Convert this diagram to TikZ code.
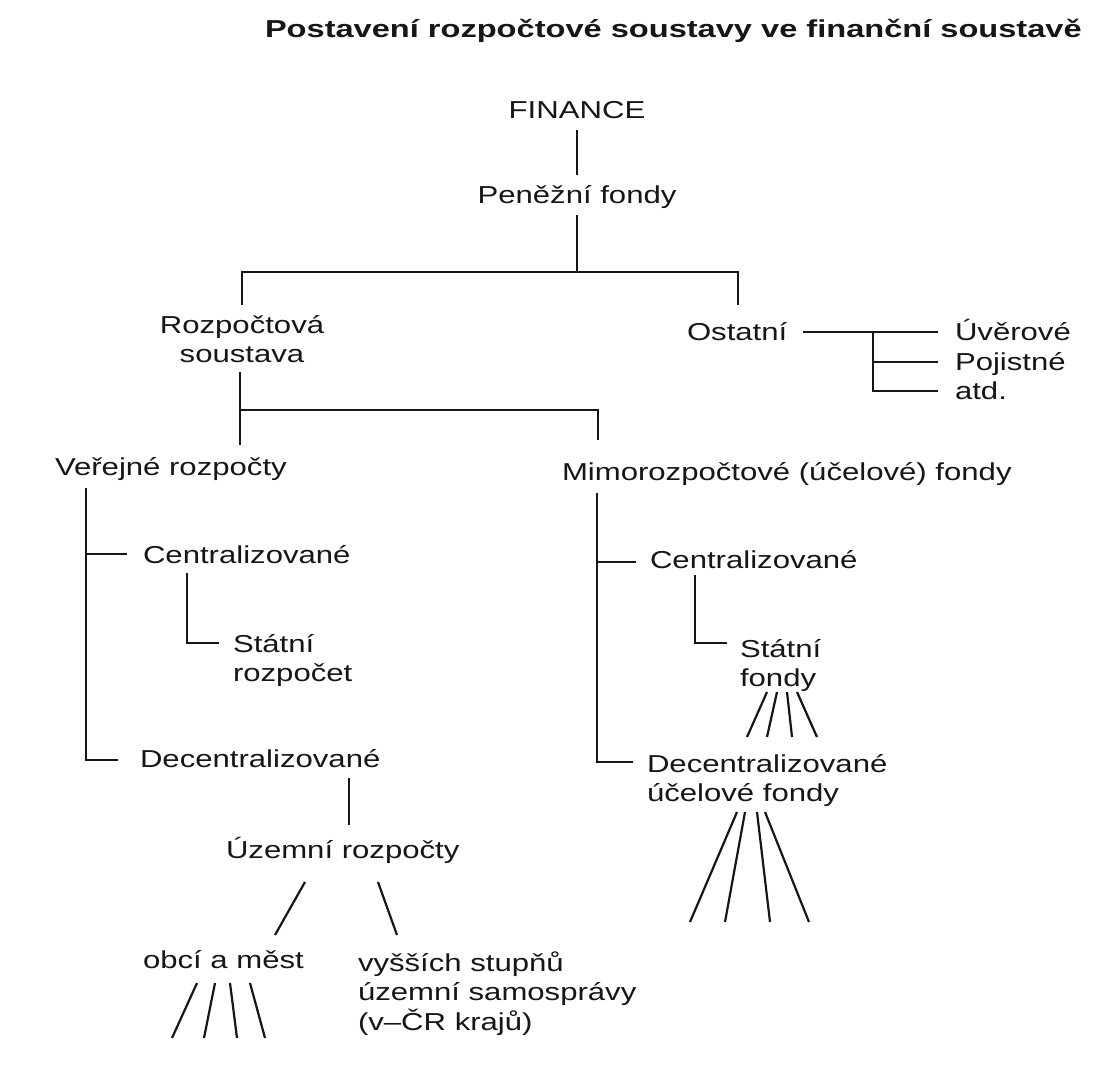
\documentclass[tikz,border=0pt]{standalone}
\usepackage{fontspec}
\setmainfont{Liberation Sans}[FakeStretch=1.27]
\newfontfamily\titlefont{Liberation Sans}[FakeStretch=1.33]
\usetikzlibrary{calc}
\definecolor{ink}{HTML}{161616}
\newcommand{\twol}[2]{\begin{tabular}[t]{@{}l@{}}#1\\#2\end{tabular}}
\newcommand{\twoc}[2]{\begin{tabular}[t]{@{}c@{}}#1\\#2\end{tabular}}
\begin{document}
\begin{tikzpicture}[x=1pt,y=-1pt,
  lbl/.style={inner sep=0pt, outer sep=0pt, text=ink, font=\fontsize{24.5}{29}\selectfont},
  conn/.style={draw=ink, line width=2.2pt}]
\fill[white] (0,0) rectangle (1102,1074);
\useasboundingbox (0,0) rectangle (1102,1074);

% nodes
\node[lbl, anchor=base west] (title) at (265,37) {\titlefont\bfseries Postavení rozpočtové soustavy ve finanční soustavě};
\node[lbl, anchor=base] (fin) at (577,118) {FINANCE};
\node[lbl, anchor=base] (pen) at (577,203) {Peněžní fondy};
\node[lbl, anchor=base] (roz) at (242,333) {\twoc{Rozpočtová}{soustava}};
\node[lbl, anchor=base west] (ost) at (687,340) {Ostatní};
\node[lbl, anchor=base west] (uv) at (955,340) {Úvěrové};
\node[lbl, anchor=base west] (poj) at (955,370) {Pojistné};
\node[lbl, anchor=base west] (atd) at (955,399) {atd.};
\node[lbl, anchor=base west] (ver) at (55,475) {Veřejné rozpočty};
\node[lbl, anchor=base west] (mim) at (562,480) {Mimorozpočtové (účelové) fondy};
\node[lbl, anchor=base west] (cenL) at (143,563) {Centralizované};
\node[lbl, anchor=base west] (stL) at (233,652) {\twol{Státní}{rozpočet}};
\node[lbl, anchor=base west] (decL) at (140,767) {Decentralizované};
\node[lbl, anchor=base west] (uzem) at (226,858) {Územní rozpočty};
\node[lbl, anchor=base west] (obci) at (143,968) {obcí a měst};
\node[lbl, anchor=base west] (vys) at (358,971) {\begin{tabular}[t]{@{}l@{}}vyšších stupňů\\územní samosprávy\\(v–ČR krajů)\end{tabular}};
\node[lbl, anchor=base west] (cenR) at (650,568) {Centralizované};
\node[lbl, anchor=base west] (stR) at (740,657) {\twol{Státní}{fondy}};
\node[lbl, anchor=base west] (decR) at (647,772) {\twol{Decentralizované}{účelové fondy}};

% free ends of fans
\coordinate (ob1) at (172,1038);
\coordinate (ob2) at (204,1038);
\coordinate (ob3) at (237,1038);
\coordinate (ob4) at (265,1038);
\coordinate (sf1) at (747,737);
\coordinate (sf2) at (767,737);
\coordinate (sf3) at (792,737);
\coordinate (sf4) at (817,737);
\coordinate (df1) at (690,922);
\coordinate (df2) at (725,922);
\coordinate (df3) at (770,922);
\coordinate (df4) at (809,922);

% connectors
\draw[conn] ($(fin.base)+(0,12)$) -- ($(pen.base)+(0,-28)$);
\draw[conn] ($(pen.base)+(0,12)$) -- ($(pen.base)+(0,69)$);
\draw[conn] ($(roz.base)+(0,-28)$) -- ($(roz.base)+(0,-61)$) -| ($(ost.base west)+(51,-35)$);

\draw[conn] ($(ost.base east)+(16,-8)$) -- ($(uv.base west)+(-17,-8)$);
\draw[conn] ($(uv.base west)+(-82,-8)$) |- ($(atd.base west)+(-17,-8)$);
\draw[conn] ($(poj.base west)+(-82,-8)$) -- ($(poj.base west)+(-17,-8)$);

\draw[conn] ($(roz.base)+(-2,39)$) -- ($(roz.base)+(-2,112)$);
\draw[conn] ($(roz.base)+(-2,77)$) -| ($(mim.base west)+(36,-40)$);

\draw[conn] ($(ver.base west)+(31,13)$) |- ($(decL.base west)+(-22,-7)$);
\draw[conn] ($(cenL.base west)+(-57,-9)$) -- ($(cenL.base west)+(-16,-9)$);
\draw[conn] ($(cenL.base west)+(44,10)$) |- ($(stL.base west)+(-14,-9)$);
\draw[conn] ($(decL.base west)+(209,11)$) -- ($(uzem.base west)+(123,-33)$);
\draw[conn] ($(uzem.base west)+(79,24)$) -- ($(obci.base west)+(132,-33)$);
\draw[conn] ($(uzem.base west)+(152,24)$) -- ($(vys.base west)+(39,-36)$);
\draw[conn] ($(obci.base west)+(54,15)$) -- (ob1);
\draw[conn] ($(obci.base west)+(72,15)$) -- (ob2);
\draw[conn] ($(obci.base west)+(87,15)$) -- (ob3);
\draw[conn] ($(obci.base west)+(107,15)$) -- (ob4);

\draw[conn] ($(mim.base west)+(35,13)$) |- ($(decR.base west)+(-14,-10)$);
\draw[conn] ($(cenR.base west)+(-53,-6)$) -- ($(cenR.base west)+(-14,-6)$);
\draw[conn] ($(cenR.base west)+(45,7)$) |- ($(stR.base west)+(-13,-14)$);
\draw[conn] ($(stR.base west)+(27,35)$) -- (sf1);
\draw[conn] ($(stR.base west)+(37,35)$) -- (sf2);
\draw[conn] ($(stR.base west)+(47,35)$) -- (sf3);
\draw[conn] ($(stR.base west)+(57,35)$) -- (sf4);
\draw[conn] ($(decR.base west)+(90,40)$) -- (df1);
\draw[conn] ($(decR.base west)+(98,40)$) -- (df2);
\draw[conn] ($(decR.base west)+(110,40)$) -- (df3);
\draw[conn] ($(decR.base west)+(118,40)$) -- (df4);
\end{tikzpicture}
\end{document}
